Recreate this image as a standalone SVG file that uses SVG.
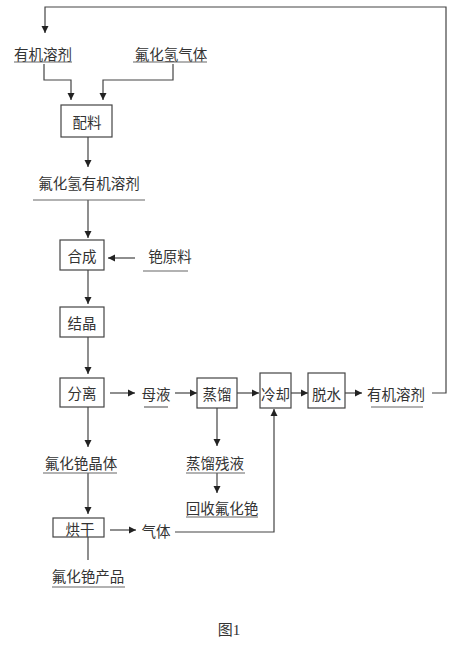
<svg xmlns="http://www.w3.org/2000/svg" width="467" height="646" viewBox="0 0 467 646">
<style>
.t{font-family:"Noto Sans CJK SC","Noto Sans CJK JP",sans-serif;font-size:14.5px;fill:#333;text-anchor:middle;dominant-baseline:central}
.b{fill:#fff;stroke:#444;stroke-width:1.2}
.u{stroke:#666;stroke-width:1.2}
.c{fill:none;stroke:#444;stroke-width:1.2}
.a{marker-end:url(#ah)}
.cap{font-family:"Liberation Serif","Noto Sans CJK SC",serif;font-size:15px;fill:#333;text-anchor:middle;dominant-baseline:central}
</style>
<defs>
<marker id="ah" markerWidth="8" markerHeight="8" refX="7" refY="4" orient="auto" markerUnits="userSpaceOnUse">
<path d="M0,0.5 L7,4 L0,7.5 Z" fill="#222"/>
</marker>
</defs>
<rect width="467" height="646" fill="#fff"/>
<g id="connectors">
<path class="c a" d="M432,393 H446 V7 H45 V33"/>
<path class="c a" d="M44,64 V80 H71 V100"/>
<path class="c a" d="M173,64 V80 H103 V100"/>
<path class="c a" d="M88,137 V167"/>
<path class="c a" d="M88,200 V238"/>
<path class="c a" d="M135,258 H108"/>
<path class="c a" d="M88,270 V304"/>
<path class="c a" d="M88,337 V374"/>
<path class="c a" d="M110,393 H135"/>
<path class="c a" d="M175,393 H197"/>
<path class="c a" d="M237,393 H259"/>
<path class="c a" d="M291,393 H308"/>
<path class="c a" d="M345,393 H362"/>
<path class="c a" d="M217,408 V446"/>
<path class="c a" d="M217,473 V493"/>
<path class="c a" d="M88,407 V447"/>
<path class="c a" d="M88,473 V514"/>
<path class="c" d="M88,537 V560"/>
<path class="c a" d="M110,530 H136"/>
<path class="c a" d="M175,532 H274 V409"/>
</g>
<g id="n_solvent_in"><text class="t" x="43" y="53">有机溶剂</text><line class="u" x1="14" y1="62" x2="72" y2="62"/></g>
<g id="n_hf_gas"><text class="t" x="171" y="53">氟化氢气体</text><line class="u" x1="133" y1="62" x2="207" y2="62"/></g>
<g id="n_peiliao"><rect class="b" x="61" y="105" width="51" height="32"/><text class="t" x="87" y="121">配料</text></g>
<g id="n_hf_solvent"><text class="t" x="89" y="182">氟化氢有机溶剂</text><line class="u" x1="33" y1="200" x2="145" y2="200"/></g>
<g id="n_hecheng"><rect class="b" x="60" y="240" width="44" height="30"/><text class="t" x="82" y="255">合成</text></g>
<g id="n_cs_raw"><text class="t" x="170" y="255">铯原料</text><line class="u" x1="143" y1="271" x2="188" y2="271"/></g>
<g id="n_jiejing"><rect class="b" x="60" y="307" width="44" height="30"/><text class="t" x="82" y="322">结晶</text></g>
<g id="n_fenli"><rect class="b" x="60" y="378" width="44" height="29"/><text class="t" x="82" y="392">分离</text></g>
<g id="n_muye"><text class="t" x="156" y="393">母液</text><line class="u" x1="144" y1="407" x2="168" y2="407"/></g>
<g id="n_zhengliu"><rect class="b" x="197" y="378" width="40" height="30"/><text class="t" x="217" y="393">蒸馏</text></g>
<g id="n_lengque"><rect class="b" x="260" y="373" width="31" height="35"/><text class="t" x="275.5" y="393">冷却</text></g>
<g id="n_tuoshui"><rect class="b" x="308" y="373" width="37" height="35"/><text class="t" x="326.5" y="393">脱水</text></g>
<g id="n_solvent_out"><text class="t" x="396" y="393">有机溶剂</text><line class="u" x1="371" y1="407" x2="423" y2="407"/></g>
<g id="n_residue"><text class="t" x="215" y="462">蒸馏残液</text><line class="u" x1="186" y1="473" x2="245" y2="473"/></g>
<g id="n_recover"><text class="t" x="222" y="507">回收氟化铯</text><line class="u" x1="186" y1="517" x2="258" y2="517"/></g>
<g id="n_crystal"><text class="t" x="81" y="462">氟化铯晶体</text><line class="u" x1="43" y1="473" x2="117" y2="473"/></g>
<g id="n_honggan"><rect class="b" x="53" y="518" width="51" height="19"/><text class="t" x="80" y="528">烘干</text></g>
<g id="n_gas"><text class="t" x="156" y="530">气体</text></g>
<g id="n_product"><text class="t" x="88" y="575">氟化铯产品</text><line class="u" x1="52" y1="587" x2="125" y2="587"/></g>
<text class="cap" x="229" y="630">图1</text>
</svg>
